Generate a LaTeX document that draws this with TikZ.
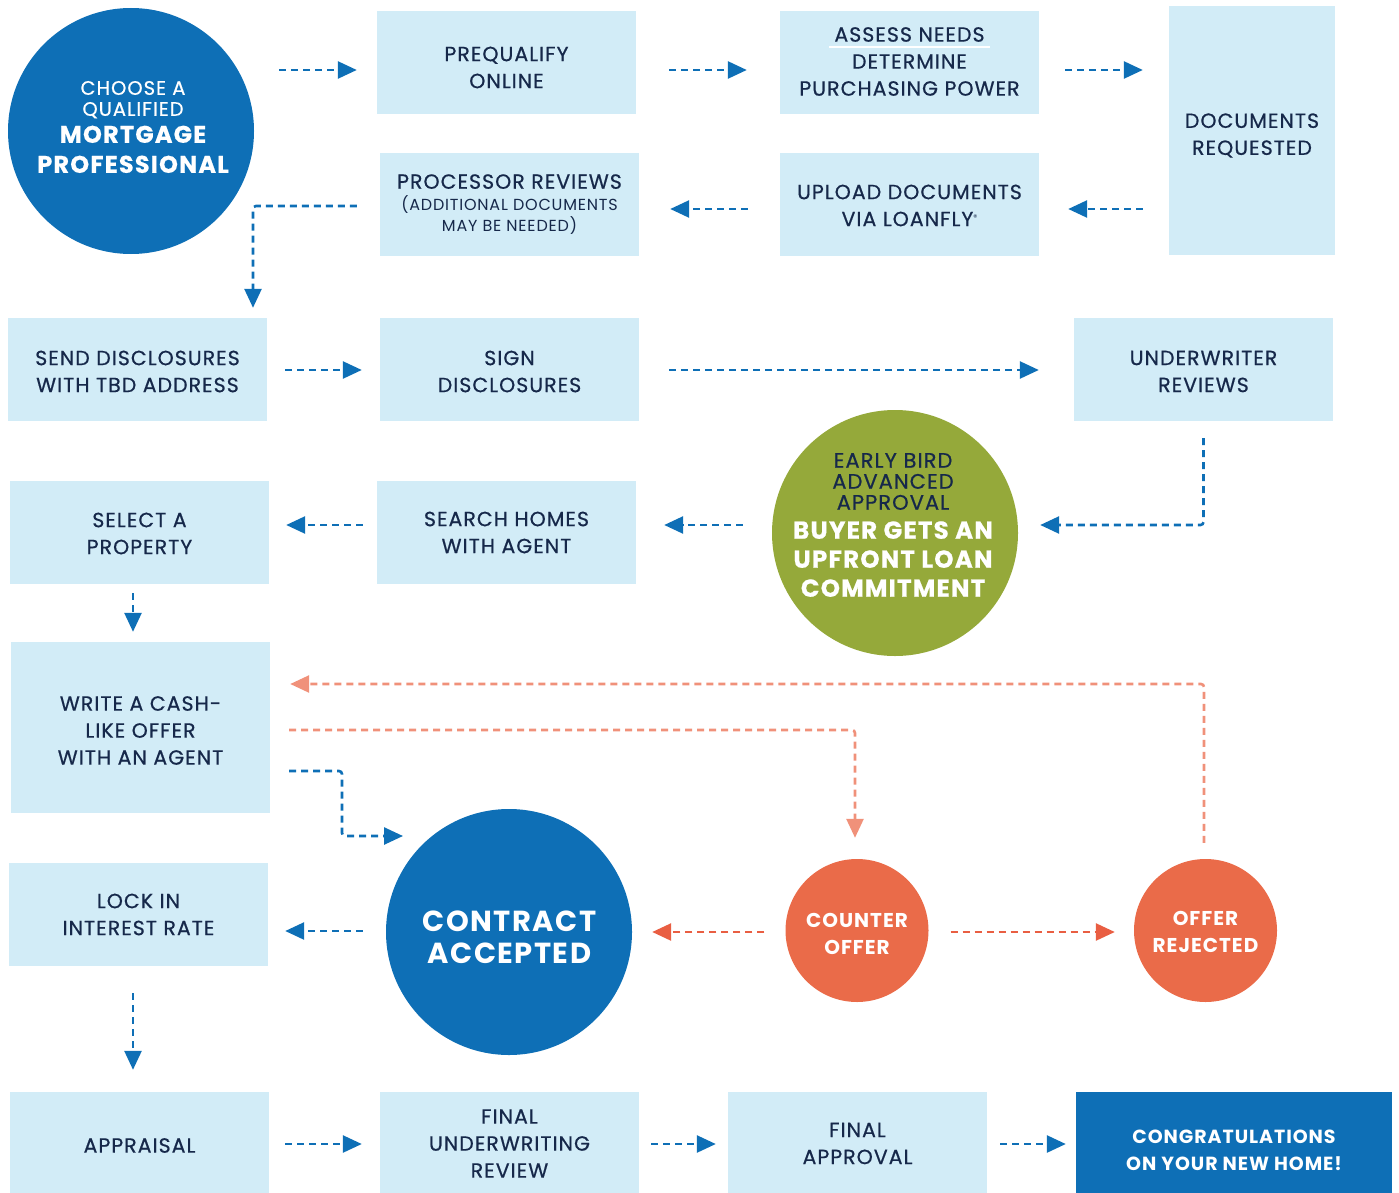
\documentclass[tikz,border=0pt]{standalone}
\usepackage{fontspec}
\setmainfont{Poppins}[LetterSpace=5]
\newfontfamily\medf{Poppins}[LetterSpace=5,FakeBold=0.6]
\usetikzlibrary{arrows.meta}
\definecolor{boxbg}{HTML}{D2ECF7}
\definecolor{mblue}{HTML}{0E6FB6}
\definecolor{navy}{HTML}{16284A}
\definecolor{mgreen}{HTML}{95A93A}
\definecolor{morange}{HTML}{EA6B49}
\definecolor{salmon}{HTML}{F0917A}
\definecolor{redor}{HTML}{E95E42}
\newcommand\chbig{\fontsize{24}{30}\selectfont\bfseries}
\newcommand\ebbig{\fontsize{24.5}{29}\selectfont\bfseries\color{white}}
\newcommand\subsm{\fontsize{16}{21}\selectfont\rmfamily}
\begin{document}
\begin{tikzpicture}[x=1pt,y=-1pt,
  box/.style={fill=boxbg, inner sep=0pt, minimum width=259pt, minimum height=103pt},
  btext/.style={text=navy, align=center, inner sep=0pt, font=\medf\fontsize{20.5}{27}\selectfont},
  wtext/.style={text=white, align=center, inner sep=0pt, font=\fontsize{20}{27}\selectfont\bfseries},
  bigc/.style={circle, fill=mblue, inner sep=0pt, minimum size=246pt},
  smallc/.style={circle, fill=morange, inner sep=0pt, minimum size=143pt},
  flow/.style={line width=2.6pt, dash pattern=on 7pt off 5pt, -{Triangle[length=19pt,width=17pt]}},
  barrow/.style={flow, draw=mblue},
  sarrow/.style={flow, draw=salmon},
  rarrow/.style={flow, draw=redor}]
\useasboundingbox (0,0) rectangle (1399,1193);
% shapes
\node[bigc] (choose) at (131,131) {};
\node[box] (pre) at (506.5,62.5) {};
\node[box] (ass) at (909.5,62.5) {};
\node[box, minimum width=166pt, minimum height=249pt] (docs) at (1252,130.5) {};
\node[box] (proc) at (509.5,204.5) {};
\node[box] (upl) at (909.5,204.5) {};
\node[box] (send) at (137.5,369.5) {};
\node[box] (sign) at (509.5,369.5) {};
\node[box] (uw) at (1203.5,369.5) {};
\node[box] (sel) at (139.5,532.5) {};
\node[box] (srch) at (506.5,532.5) {};
\node[bigc, fill=mgreen] (eb) at (895,533) {};
\node[box, minimum height=171pt] (write) at (140.5,727.5) {};
\node[box] (lock) at (138.5,914.5) {};
\node[bigc] (ca) at (509,932) {};
\node[smallc] (co) at (857,930.5) {};
\node[smallc] (orj) at (1205.5,930.5) {};
\node[box, minimum height=101pt] (appr) at (139.5,1142.5) {};
\node[box, minimum height=101pt] (fuw) at (509.5,1142.5) {};
\node[box, minimum height=101pt] (fap) at (857.5,1142.5) {};
\node[box, minimum width=316pt, minimum height=101pt, fill=mblue] (cong) at (1234,1142.5) {};
% texts
\node[wtext, font=\medf\fontsize{19.5}{21}\selectfont] (chooset) at (133,127) {CHOOSE A\\QUALIFIED\\[6pt]\chbig MORTGAGE\\[9pt]\chbig PROFESSIONAL};
\node[btext] (pret) at (506.5,67.5) {PREQUALIFY\\ONLINE};
\node[btext] (asst) at (909.5,61.5) {ASSESS NEEDS\\DETERMINE\\PURCHASING POWER};
\node[btext] (docst) at (1252,135.5) {DOCUMENTS\\REQUESTED};
\node[btext] (proct) at (509.5,204.5) {PROCESSOR REVIEWS\\[-5pt]\subsm (ADDITIONAL DOCUMENTS\\[-6pt]\subsm MAY BE NEEDED)};
\node[btext] (uplt) at (909.5,205.5) {UPLOAD DOCUMENTS\\VIA LOANFLY\raisebox{6pt}{\rmfamily\fontsize{8}{8}\selectfont ®}};
\node[btext] (sendt) at (137.5,371.5) {SEND DISCLOSURES\\WITH TBD ADDRESS};
\node[btext] (signt) at (509.5,371.5) {SIGN\\DISCLOSURES};
\node[btext] (uwt) at (1203.5,371.5) {UNDERWRITER\\REVIEWS};
\node[btext] (selt) at (139.5,533.5) {SELECT A\\PROPERTY};
\node[btext] (srcht) at (506.5,532.5) {SEARCH HOMES\\WITH AGENT};
\node[btext, font=\medf\fontsize{21}{21}\selectfont] (ebt) at (893,525) {EARLY BIRD\\ADVANCED\\APPROVAL\\[8pt]\ebbig BUYER GETS AN\\[8pt]\ebbig UPFRONT LOAN\\[8pt]\ebbig COMMITMENT};
\node[btext] (writet) at (140.5,730.5) {WRITE A CASH-\\LIKE OFFER\\WITH AN AGENT};
\node[btext] (lockt) at (138.5,914.5) {LOCK IN\\INTEREST RATE};
\node[wtext, font=\fontsize{29}{32}\selectfont\bfseries] (cat) at (509.5,937) {CONTRACT\\ACCEPTED};
\node[wtext] (cot) at (857,933.5) {COUNTER\\OFFER};
\node[wtext] (orjt) at (1205.5,931.5) {OFFER\\REJECTED};
\node[btext] (apprt) at (139.5,1145.5) {APPRAISAL};
\node[btext] (fuwt) at (509.5,1143.5) {FINAL\\UNDERWRITING\\REVIEW};
\node[btext] (fapt) at (857.5,1143.5) {FINAL\\APPROVAL};
\node[wtext, font=\fontsize{19}{27}\selectfont\bfseries] (congt) at (1234,1150.5) {CONGRATULATIONS\\ON YOUR NEW HOME!};
\draw[white, line width=1.2pt] (829,47) -- (990,47);
% blue connectors
\draw[barrow, shorten <=25pt, shorten >=20pt] (choose.east |- 0,70) -- (pre.west |- 0,70);
\draw[barrow, shorten <=33pt, shorten >=33pt] (pre.east |- 0,70) -- (ass.west |- 0,70);
\draw[barrow, shorten <=26pt, shorten >=26pt] (ass.east |- 0,70) -- (docs.west |- 0,70);
\draw[barrow, shorten <=26pt, shorten >=29pt] (docs.west |- 0,209) -- (upl.east |- 0,209);
\draw[barrow, shorten <=32pt, shorten >=31pt] (upl.west |- 0,209) -- (proc.east |- 0,209);
\draw[barrow, shorten <=23pt, shorten >=10pt, rounded corners=3pt] (proc.west |- 0,206) -| ([xshift=115.5pt]send.north);
\draw[barrow, shorten <=18pt, shorten >=18pt] (send.east |- 0,370) -- (sign.west |- 0,370);
\draw[barrow, shorten <=30pt, shorten >=35pt] (sign.east |- 0,370) -- (uw.west |- 0,370);
\draw[barrow, shorten <=17pt, shorten >=22pt, rounded corners=3pt] (uw.south) |- (eb.east |- 0,525);
\draw[barrow, shorten <=29pt, shorten >=28pt] (eb.west |- 0,525) -- (srch.east |- 0,525);
\draw[barrow, shorten <=14pt, shorten >=17pt] (srch.west |- 0,525) -- (sel.east |- 0,525);
\draw[barrow, shorten <=9pt, shorten >=10pt] ([xshift=-6.5pt]sel.south) -- ([xshift=-6.5pt]sel.south |- write.north);
\coordinate (caend) at (403,836);
\draw[barrow, shorten <=19pt, rounded corners=3pt] (write.east |- 0,771) -- (342,771) -- (342,836) -- (caend);
\draw[barrow, shorten <=23pt, shorten >=17pt] (ca.west |- 0,931) -- (lock.east |- 0,931);
\draw[barrow, shorten <=27pt, shorten >=22pt] ([xshift=-5.5pt]lock.south) -- ([xshift=-5.5pt]lock.south |- appr.north);
\draw[barrow, shorten <=16pt, shorten >=18pt] (appr.east |- 0,1144) -- (fuw.west |- 0,1144);
\draw[barrow, shorten <=12pt, shorten >=12pt] (fuw.east |- 0,1144) -- (fap.west |- 0,1144);
\draw[barrow, shorten <=13pt, shorten >=10pt] (fap.east |- 0,1144) -- (cong.west |- 0,1144);
% orange connectors
\draw[sarrow, shorten <=19pt, shorten >=21pt, rounded corners=3pt] (write.east |- 0,730) -| ([xshift=-2pt]co.north);
\draw[sarrow, shorten <=16pt, shorten >=20pt, rounded corners=3pt] ([xshift=-1.5pt]orj.north) |- (write.east |- 0,684);
\draw[rarrow, shorten <=21pt, shorten >=20pt] (co.west |- 0,932) -- (ca.east |- 0,932);
\draw[rarrow, shorten <=22pt, shorten >=19pt] (co.east |- 0,932) -- (orj.west |- 0,932);
\end{tikzpicture}
\end{document}
